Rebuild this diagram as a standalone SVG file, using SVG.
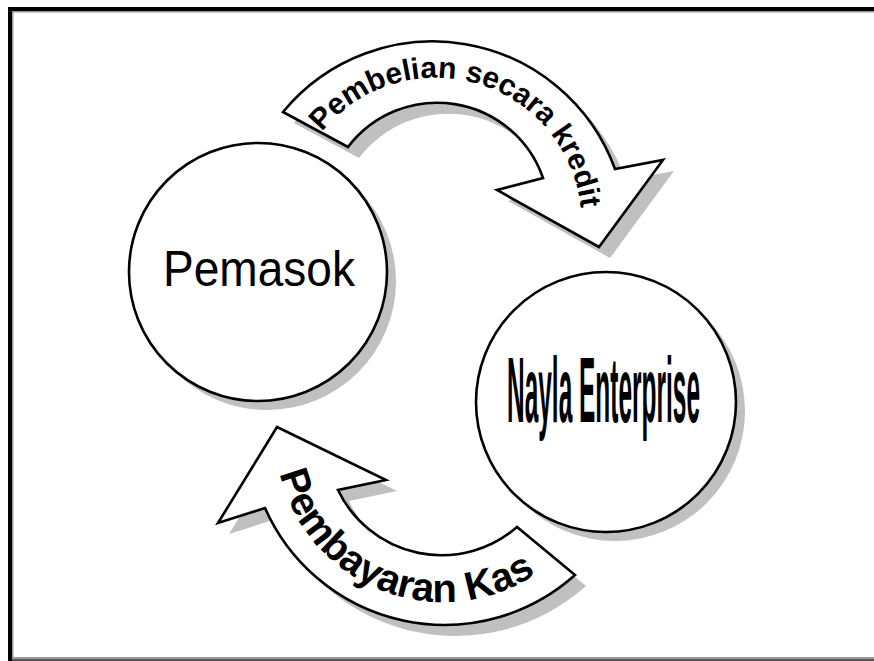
<svg xmlns="http://www.w3.org/2000/svg" xmlns:xlink="http://www.w3.org/1999/xlink" width="874" height="661" viewBox="0 0 874 661">
<style>
.shape{fill:#fff;stroke:#000;stroke-width:2.6;stroke-linejoin:miter}
.shadow{fill:#c0c0c0;stroke:none}
.lbl{font-family:"Liberation Sans",Arial,sans-serif;fill:#000}
</style>
<defs>
<path id="arrowTop" d="M283,112 A194,194 0 0 1 615,169 L663,160 L599,247 L497,190 L543,178 A112,112 0 0 0 348,147 Z"/>
<path id="arrowBot" d="M277,427 L218,523 L265,508 A196,196 0 0 0 575,575 L517,527 A114.8,114.8 0 0 1 338,490 L386,480 Z"/>
<path id="tpTop" d="M322,132 A146,146 0 0 1 581,210"/>
<path id="tpBot" d="M279.7,473.5 A168,168 0 0 0 536.1,573.9"/>
</defs>
<rect x="0" y="0" width="874" height="661" fill="#fff"/>
<g id="frame">
<rect x="8" y="7" width="866" height="4" fill="#000"/>
<rect x="8" y="7" width="4" height="654" fill="#000"/>
<rect x="12" y="11" width="862" height="1.5" fill="#999"/>
<rect x="12" y="11" width="1.5" height="650" fill="#999"/>
<rect x="12" y="657" width="862" height="2" fill="#999"/>
<rect x="12" y="659" width="862" height="2" fill="#555"/>
</g>
<g id="shadows">
<circle class="shadow" cx="267" cy="281" r="129"/>
<circle class="shadow" cx="615" cy="411" r="130"/>
<use xlink:href="#arrowTop" class="shadow" transform="translate(11,11)"/>
<use xlink:href="#arrowBot" class="shadow" transform="translate(11,11)"/>
</g>
<g id="pemasok">
<circle class="shape" cx="258" cy="272" r="129"/>
<text class="lbl" x="163" y="286" font-size="50" textLength="192" lengthAdjust="spacingAndGlyphs">Pemasok</text>
</g>
<g id="nayla">
<circle class="shape" cx="606" cy="402" r="130"/>
<text class="lbl" x="507" y="422" font-size="93" font-weight="bold" textLength="193" lengthAdjust="spacingAndGlyphs">Nayla Enterprise</text>
</g>
<g id="connectors">
<g id="arrow-pembelian">
<use xlink:href="#arrowTop" class="shape"/>
<text class="lbl" font-size="30" font-weight="bold"><textPath xlink:href="#tpTop">Pembelian secara kredit</textPath></text>
</g>
<g id="arrow-pembayaran">
<use xlink:href="#arrowBot" class="shape"/>
<text class="lbl" font-size="40" font-weight="bold"><textPath xlink:href="#tpBot">Pembayaran Kas</textPath></text>
</g>
</g>
</svg>
